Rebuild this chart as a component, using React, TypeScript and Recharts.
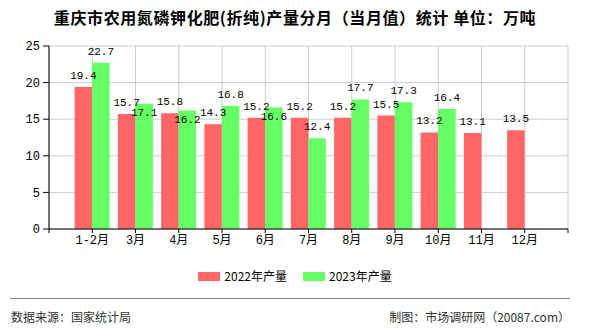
import { BarChart, Bar, XAxis, YAxis, CartesianGrid, LabelList, Legend } from "recharts";

const months = ["1-2月", "3月", "4月", "5月", "6月", "7月", "8月", "9月", "10月", "11月", "12月"];
const output2022 = [19.4, 15.7, 15.8, 14.3, 15.2, 15.2, 15.2, 15.5, 13.2, 13.1, 13.5];
const output2023 = [22.7, 17.1, 16.2, 16.8, 16.6, 12.4, 17.7, 17.3, 16.4, null, null];
const yTicks = [0, 5, 10, 15, 20, 25];

const RED = "#ff6666";
const GREEN = "#66ff66";
const MONO = "'Liberation Mono', 'DejaVu Sans Mono', 'Noto Sans CJK SC', monospace";
const SANS = "'Noto Sans CJK SC', 'Noto Sans', sans-serif";

// numeric x positions so the ticks sit on bar pairs and the border ticks show
const data = months.map((m, i) => ({
  pos: i + 1,
  month: m,
  y2022: output2022[i],
  y2023: output2023[i],
}));
const xTicks = Array.from({ length: months.length + 2 }, (_, i) => i);

const legendItems = [
  { label: "2022年产量", color: RED },
  { label: "2023年产量", color: GREEN },
];

function LegendContent() {
  return (
    <div style={{ display: "flex", justifyContent: "center", alignItems: "center", fontFamily: SANS, fontSize: 12, color: "#000" }}>
      {legendItems.map((it, i) => (
        <div key={it.label} style={{ display: "flex", alignItems: "center", marginLeft: i ? 16 : 0 }}>
          <span style={{ width: 22, height: 9, background: it.color, display: "inline-block", marginRight: 4 }} />
          <span style={{ lineHeight: "14px" }}>{it.label}</span>
        </div>
      ))}
    </div>
  );
}

// green label drops inside the bar when it would collide with the red one
function GreenLabel(props: any) {
  const { value, index } = props;
  if (value == null) return null;
  const vb = props.viewBox || props;
  const cx = vb.x + vb.width / 2;
  const red = output2022[index];
  const clash = red != null && value >= red && value - red < 1.5;
  const y = clash ? vb.y + 5 : vb.y - 8;
  return (
    <text x={cx} y={y} textAnchor="middle" dominantBaseline={clash ? "hanging" : "auto"} fill="#000" fontSize={11} fontFamily={MONO}>
      {value}
    </text>
  );
}

export default function App() {
  return (
    <div style={{ position: "absolute", left: 0, top: 0, width: 590, height: 330, background: "#fff", fontFamily: SANS }}>
      <div style={{ position: "absolute", top: 7, left: 0, width: 590, textAlign: "center", fontSize: 16, fontWeight: "bold", lineHeight: "20px", letterSpacing: 0.6, color: "#000" }}>
        重庆市农用氮磷钾化肥(折纯)产量分月（当月值）统计 单位：万吨
      </div>
      <BarChart
        width={590}
        height={330}
        data={data}
        margin={{ top: 46, right: 22, left: 0, bottom: 71 }}
        barGap={0}
        barSize={17.5}
      >
        <CartesianGrid stroke="#cccccc" />
        <XAxis
          type="number"
          dataKey="pos"
          domain={[0, months.length + 1]}
          ticks={xTicks}
          interval={0}
          tickFormatter={(v: number) => months[v - 1] ?? ""}
          height={30}
          tickSize={4}
          stroke="#000"
          tick={{ fill: "#000", fontSize: 12, fontFamily: MONO }}
        />
        <YAxis
          domain={[0, 25]}
          ticks={yTicks}
          width={49}
          tickSize={6}
          tickMargin={3}
          stroke="#000"
          tick={{ fill: "#000", fontSize: 12, fontFamily: MONO }}
        />
        <Legend
          verticalAlign="middle"
          align="center"
          content={<LegendContent />}
          wrapperStyle={{ top: 269, left: 0, width: 590 }}
        />
        <Bar dataKey="y2022" fill={RED} isAnimationActive={false}>
          <LabelList dataKey="y2022" position="top" offset={8} fill="#000" fontSize={11} fontFamily={MONO} />
        </Bar>
        <Bar dataKey="y2023" fill={GREEN} isAnimationActive={false}>
          <LabelList dataKey="y2023" content={GreenLabel} />
        </Bar>
      </BarChart>
      <div style={{ position: "absolute", top: 298, left: 10, width: 560, height: 1, background: "#888" }} />
      <div style={{ position: "absolute", top: 309, left: 11, fontSize: 12, lineHeight: "16px", color: "#333" }}>
        数据来源：国家统计局
      </div>
      <div style={{ position: "absolute", top: 309, right: 20, fontSize: 12, lineHeight: "16px", color: "#333" }}>
        制图：市场调研网（20087.com）
      </div>
    </div>
  );
}
